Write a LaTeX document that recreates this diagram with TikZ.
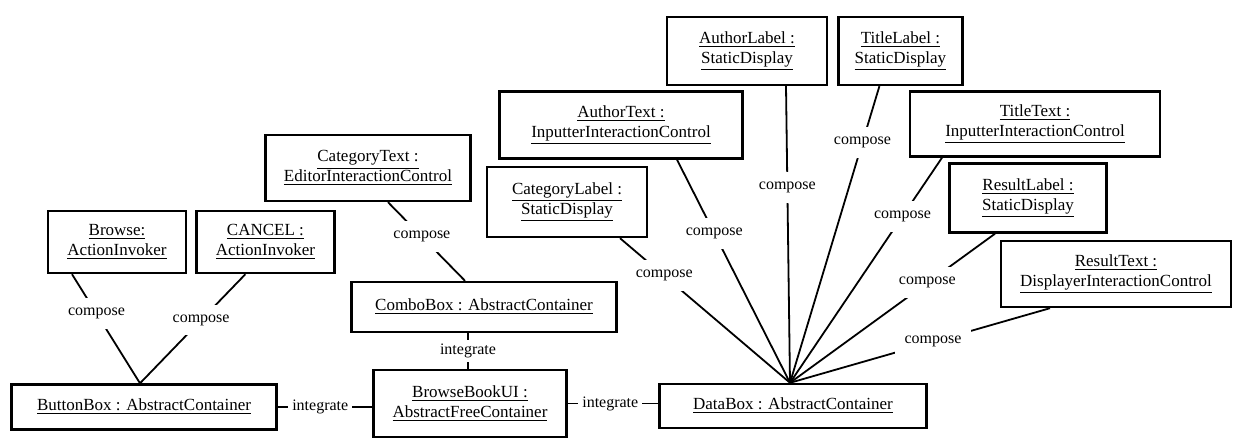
\documentclass[tikz,border=0pt]{standalone}
\usepackage{fontspec}
\setmainfont{Liberation Serif}
\usetikzlibrary{positioning}

\begin{document}
\begin{tikzpicture}[
  x=0.5pt, y=-0.5pt,
  obj/.style={draw, line width=1.2pt, align=center, font=\fontsize{8.5}{10}\selectfont, inner sep=2pt, fill=white},
  rel/.style={line width=0.9pt},
  tag/.style={font=\fontsize{8}{9}\selectfont, fill=white, inner sep=5pt}
]
\useasboundingbox (0,0) rectangle (1236,438);

\node[obj, minimum width=132.5pt, minimum height=22.5pt] (buttonBox) at (144,407) {\underline{ButtonBox : AbstractContainer}};
\node[obj, minimum width=96.5pt, minimum height=33.5pt] (browseBook) at (470,403.5) {\underline{BrowseBookUI :}\\\underline{AbstractFreeContainer}};
\node[obj, minimum width=133.5pt, minimum height=22pt] (dataBox) at (793,406) {\underline{DataBox : AbstractContainer}};
\node[obj, minimum width=132.5pt, minimum height=25pt] (comboBox) at (484,307) {\underline{ComboBox : AbstractContainer}};

\node[obj, minimum width=69pt, minimum height=31pt] (browse) at (117,242) {\underline{Browse:}\\\underline{ActionInvoker}};
\node[obj, minimum width=69pt, minimum height=31pt, right=4pt of browse] (cancel) {\underline{CANCEL :}\\\underline{ActionInvoker}};
\node[obj, minimum width=102.5pt, minimum height=33pt] (categoryText) at (368,168) {\underline{CategoryText :}\\\underline{EditorInteractionControl}};
\node[obj, minimum width=80pt, minimum height=35pt] (categoryLabel) at (567,202) {\underline{CategoryLabel :}\\\underline{StaticDisplay}};
\node[obj, minimum width=121.5pt, minimum height=33.5pt] (authorText) at (621,125) {\underline{AuthorText :}\\\underline{InputterInteractionControl}};
\node[obj, minimum width=80pt, minimum height=34pt] (authorLabel) at (747,51) {\underline{AuthorLabel :}\\\underline{StaticDisplay}};
\node[obj, minimum width=62pt, minimum height=34pt, right=4.5pt of authorLabel] (titleLabel) {\underline{TitleLabel :}\\\underline{StaticDisplay}};
\node[obj, minimum width=125pt, minimum height=32.5pt] (titleText) at (1035,124) {\underline{TitleText :}\\\underline{InputterInteractionControl}};
\node[obj, minimum width=78.5pt, minimum height=34.5pt] (resultLabel) at (1028,198) {\underline{ResultLabel :}\\\underline{StaticDisplay}};
\node[obj, minimum width=115pt, minimum height=33pt] (resultText) at (1116,274) {\underline{ResultText :}\\\underline{DisplayerInteractionControl}};

\coordinate (hub) at ([xshift=-1.5pt]dataBox.north);

\draw[rel] ([xshift=-22.5pt]browse.south) -- node[tag, pos=0.36] {compose} ([xshift=-2pt]buttonBox.north);
\draw[rel] ([xshift=-10pt]cancel.south) -- node[tag, pos=0.42] {compose} ([xshift=-2pt]buttonBox.north);
\draw[rel] ([xshift=10pt]categoryText.south) -- node[tag, pos=0.44] {compose} ([xshift=-9.5pt]comboBox.north);
\draw[rel] ([xshift=-8pt]comboBox.south) -- node[tag, inner sep=2pt] {integrate} ([xshift=-8pt]comboBox.south |- browseBook.north);
\draw[rel] (buttonBox.east) -- node[tag, inner sep=2pt, pos=0.45] {integrate} (buttonBox.east -| browseBook.west);
\draw[rel] (browseBook.east) -- node[tag, inner sep=2pt, pos=0.47] {integrate} (browseBook.east -| dataBox.west);

\draw[rel] ([xshift=26.5pt]categoryLabel.south) -- node[tag, pos=0.26] {compose} (hub);
\draw[rel] ([xshift=28pt]authorText.south) -- node[tag, pos=0.33] {compose} (hub);
\draw[rel] ([xshift=19.5pt]authorLabel.south) -- node[tag, pos=0.34] {compose} (hub);
\draw[rel] ([xshift=-10.5pt]titleLabel.south) -- node[tag, pos=0.19] {compose} (hub);
\draw[rel] ([xshift=-46.5pt]titleText.south) -- node[tag, pos=0.26] {compose} (hub);
\draw[rel] ([xshift=-16.5pt]resultLabel.south) -- node[tag, pos=0.33] {compose} (hub);
\draw[rel] ([xshift=-33pt]resultText.south) -- node[tag, pos=0.45] {compose} (hub);

\end{tikzpicture}
\end{document}
